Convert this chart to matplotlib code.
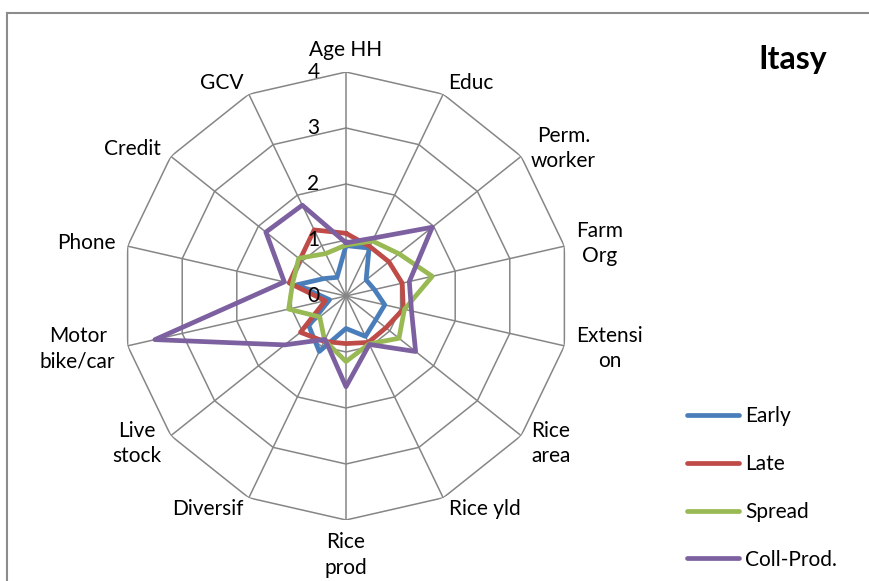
import numpy as np
import matplotlib
matplotlib.use("Agg")
import matplotlib.pyplot as plt
from matplotlib.lines import Line2D

plt.rcParams['font.family'] = ['Lato', 'DejaVu Sans']

# categories, clockwise from the top
cats = ["Age HH", "Educ", "Perm.\nworker", "Farm\nOrg", "Extensi\non", "Rice\narea",
        "Rice yld", "Rice\nprod", "Diversif", "Live\nstock", "Motor\nbike/car",
        "Phone", "Credit", "GCV"]

early = [0.9, 0.95, 0.46, 0.52, 0.71, 0.68, 0.8, 0.58, 1.1, 0.85, 0.3, 0.9, 0.5, 0.37]
late = [1.12, 0.98, 0.98, 1.03, 1.05, 0.91, 0.92, 0.85, 0.9, 1.04, 0.38, 1.04, 1.05, 1.31]
spread = [0.91, 1.09, 1.21, 1.58, 1.07, 1.21, 0.95, 1.17, 0.88, 0.6, 1.05, 0.98, 1.08, 0.84]
coll = [0.95, 1.15, 1.97, 1.16, 1.2, 1.59, 0.96, 1.62, 0.86, 1.4, 3.5, 1.13, 1.83, 1.8]

series = [("Early", early, "#4A7EBB"), ("Late", late, "#BE4B48"),
          ("Spread", spread, "#98B954"), ("Coll-Prod.", coll, "#7D60A0")]
rticks = [0, 1, 2, 3, 4]

W, H = 869, 581
fig = plt.figure(figsize=(W / 100, H / 100), dpi=100)

# chart frame (left and top edges visible)
fig.add_artist(Line2D([7 / W, 7 / W], [0, 1 - 13 / H], color="#8c8c8c", lw=1.5))
fig.add_artist(Line2D([7 / W, 1], [1 - 13 / H, 1 - 13 / H], color="#8c8c8c", lw=1.5))

cx, cy, R = 346, 296, 224
ax = fig.add_axes([(cx - R) / W, (H - cy - R) / H, 2 * R / W, 2 * R / H], projection="polar")
ax.set_theta_zero_location("N")
ax.set_theta_direction(-1)
ax.set_ylim(0, 4)
ax.grid(False)
ax.spines["polar"].set_visible(False)
ax.set_xticks([])
ax.set_yticks([])
ax.patch.set_alpha(0)

n = len(cats)
ang = np.arange(n) * 2 * np.pi / n
ang_c = np.append(ang, ang[0])

# polygon grid and spokes
gc = "#868686"
for r in rticks[1:]:
    ax.plot(ang_c, [r] * (n + 1), color=gc, lw=1.1, zorder=1)
for a in ang:
    ax.plot([a, a], [0, 4], color=gc, lw=1.1, zorder=1)

for name, vals, col in series:
    v = np.append(vals, vals[0])
    ax.plot(ang_c, v, color=col, lw=3.4, label=name, zorder=3,
            solid_joinstyle="round", solid_capstyle="round")

# radial labels
for r in rticks:
    ax.annotate(str(r), xy=(0, r), xytext=(-19, 0), textcoords="offset points",
                ha="right", va="center", fontsize=15, zorder=5)

# category labels
d = 9
for a, lab in zip(ang, cats):
    s, c = np.sin(a), np.cos(a)
    if s > 0.1:
        ha, va = "left", "center"
    elif s < -0.1:
        ha, va = "right", "center"
    else:
        ha = "center"
        va = "bottom" if c > 0 else "top"
    ax.annotate(lab, xy=(a, 4), xytext=(s * d, c * d), textcoords="offset points",
                ha=ha, va=va, fontsize=15, multialignment="center", linespacing=1.35,
                annotation_clip=False)

fig.text(793 / W, 1 - 59 / H, "Itasy", ha="center", va="center",
         fontsize=23, fontweight="bold")

fig.legend(loc="upper left", bbox_to_anchor=(687 / W, 1 - 406 / H), frameon=False,
           fontsize=15, handlelength=2.5, handletextpad=0.3, labelspacing=1.34,
           borderpad=0, borderaxespad=0)

fig.savefig("out.png", dpi=100)
